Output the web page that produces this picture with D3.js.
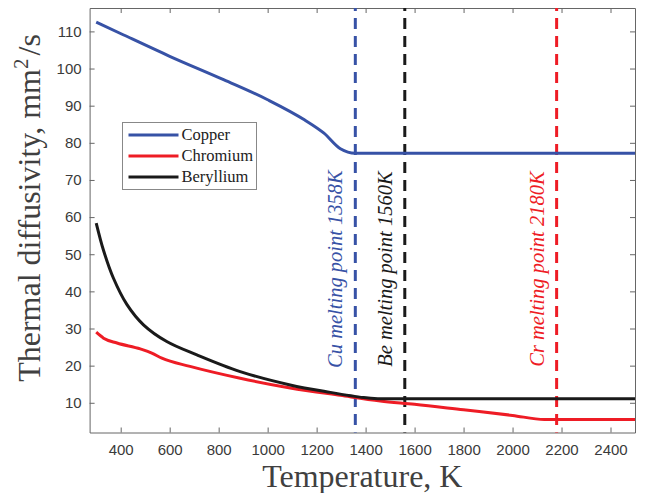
<!DOCTYPE html>
<html>
<head>
<meta charset="utf-8">
<script src="https://cdn.jsdelivr.net/npm/d3@7"></script>
<style>
  body { margin: 0; background: #fff; }
  svg { display: block; }
</style>
</head>
<body>
<div id="chart"></div>
<script>
// Values (temperature in K, diffusivity in mm^2/s)
const copperT = [300, 410, 600, 820, 1000, 1150, 1230, 1297, 1358, 2500];
const copperD = [112.5, 109.1, 103.3, 97.0, 91.6, 86.2, 82.6, 78.4, 77.2, 77.2];

const chromiumT = [300, 330, 385, 480, 527, 568, 683, 888, 1092, 1297, 1460, 1600, 1800, 2000, 2130, 2500];
const chromiumD = [29.0, 27.4, 26.1, 24.5, 23.4, 22.0, 19.8, 16.6, 14.0, 12.0, 10.5, 9.6, 8.1, 6.6, 5.5, 5.5];

const berylliumT = [300, 330, 370, 425, 493, 588, 711, 888, 1092, 1256, 1392, 1450, 1600, 2500];
const berylliumD = [58.4, 51.0, 43.6, 36.5, 31.0, 26.5, 22.9, 18.4, 14.8, 12.8, 11.4, 11.1, 11.1, 11.1];

const seriesNames = ['Copper', 'Chromium', 'Beryllium'];
const seriesColors = ['#3752a6', '#ee1c25', '#1a1a1a'];

const meltNames = ['Cu melting point 1358K', 'Be melting point 1560K', 'Cr melting point 2180K'];
const meltTemps = [1358, 1560, 2180];
const meltColors = ['#3752a6', '#1a1a1a', '#ee1c25'];

const xTicks = [400, 600, 800, 1000, 1200, 1400, 1600, 1800, 2000, 2200, 2400];
const yTicks = [10, 20, 30, 40, 50, 60, 70, 80, 90, 100, 110];

// Layout
const width = 660, height = 493;
const margin = { top: 8, right: 25, bottom: 60.5, left: 89.6 };
const innerW = width - margin.left - margin.right;
const innerH = height - margin.top - margin.bottom;

const svg = d3.select('#chart').append('svg')
    .attr('width', width)
    .attr('height', height);

const g = svg.append('g')
    .attr('transform', `translate(${margin.left},${margin.top})`);

const x = d3.scaleLinear().domain([273, 2500]).range([0, innerW]);
const y = d3.scaleLinear().domain([2, 116.3]).range([innerH, 0]);

// Axes with inward ticks (MATLAB style box)
const tickFont = '"Liberation Sans", Arial, sans-serif';
const axisColor = '#666';
const labelColor = '#3a3a3a';
const fmt = d3.format('d');

function styleAxis(sel) {
    sel.select('.domain').attr('stroke', axisColor);
    sel.selectAll('.tick line').attr('stroke', axisColor);
    sel.selectAll('.tick text')
        .attr('fill', labelColor)
        .style('font-family', tickFont)
        .style('font-size', '15px');
}

g.append('g')
    .attr('transform', `translate(0,${innerH})`)
    .call(d3.axisBottom(x).tickValues(xTicks).tickFormat(fmt).tickSizeInner(-5).tickSizeOuter(0).tickPadding(11.5))
    .call(styleAxis);

g.append('g')
    .call(d3.axisTop(x).tickValues(xTicks).tickSizeInner(-5).tickSizeOuter(0).tickFormat(''))
    .call(styleAxis);

g.append('g')
    .call(d3.axisLeft(y).tickValues(yTicks).tickFormat(fmt).tickSizeInner(-5).tickSizeOuter(0).tickPadding(8))
    .call(styleAxis);

g.append('g')
    .attr('transform', `translate(${innerW},0)`)
    .call(d3.axisRight(y).tickValues(yTicks).tickSizeInner(-5).tickSizeOuter(0).tickFormat(''))
    .call(styleAxis);

// Melting point lines and labels
meltTemps.forEach((t, i) => {
    g.append('line')
        .attr('x1', x(t)).attr('x2', x(t))
        .attr('y1', y(116.3)).attr('y2', y(2))
        .attr('stroke', meltColors[i])
        .attr('stroke-width', 3)
        .attr('stroke-dasharray', '11,7')
        .attr('stroke-dashoffset', -10);

    g.append('text')
        .attr('transform', `translate(${x(t) - 13},${y(46)}) rotate(-90)`)
        .attr('text-anchor', 'middle')
        .attr('fill', meltColors[i])
        .style('font-family', '"Liberation Serif", "Times New Roman", serif')
        .style('font-style', 'italic')
        .style('font-size', '20.5px')
        .text(meltNames[i]);
});

// Data lines
const curves = [d3.curveMonotoneX, d3.curveMonotoneX, d3.curveCatmullRom.alpha(0.5)];

const seriesData = [
    d3.zip(copperT, copperD),
    d3.zip(chromiumT, chromiumD),
    d3.zip(berylliumT, berylliumD)
];

seriesData.forEach((pts, i) => {
    const line = d3.line()
        .x(d => x(d[0]))
        .y(d => y(d[1]))
        .curve(curves[i]);
    g.append('path')
        .datum(pts)
        .attr('fill', 'none')
        .attr('stroke', seriesColors[i])
        .attr('stroke-width', 3)
        .attr('stroke-linejoin', 'round')
        .attr('d', line);
});

// Legend
const legend = svg.append('g').attr('transform', 'translate(122.5,122.5)');
legend.append('rect')
    .attr('width', 134)
    .attr('height', 67)
    .attr('fill', '#fff')
    .attr('stroke', '#888')
    .attr('stroke-width', 1);

seriesNames.forEach((name, i) => {
    const ly = 12.5 + i * 21;
    legend.append('line')
        .attr('x1', 6).attr('x2', 56)
        .attr('y1', ly).attr('y2', ly)
        .attr('stroke', seriesColors[i])
        .attr('stroke-width', 3);
    legend.append('text')
        .attr('x', 59)
        .attr('y', ly + 5)
        .attr('fill', '#222')
        .style('font-family', '"Liberation Serif", "Times New Roman", serif')
        .style('font-size', '16.5px')
        .text(name);
});

// Axis titles
const titleFont = '"Liberation Serif", "Times New Roman", serif';

svg.append('text')
    .attr('x', margin.left + innerW / 2)
    .attr('y', 487)
    .attr('text-anchor', 'middle')
    .attr('fill', '#404040')
    .style('font-family', titleFont)
    .style('font-size', '32px')
    .text('Temperature, K');

const yTitle = svg.append('text')
    .attr('transform', 'translate(40,208) rotate(-90)')
    .attr('text-anchor', 'middle')
    .attr('fill', '#404040')
    .style('font-family', titleFont)
    .style('font-size', '32px');
yTitle.append('tspan').text('Thermal diffusivity, mm');
yTitle.append('tspan').attr('dy', -12).style('font-size', '21px').text('2');
yTitle.append('tspan').attr('dx', 3).attr('dy', 12).text('/s');
</script>
</body>
</html>
